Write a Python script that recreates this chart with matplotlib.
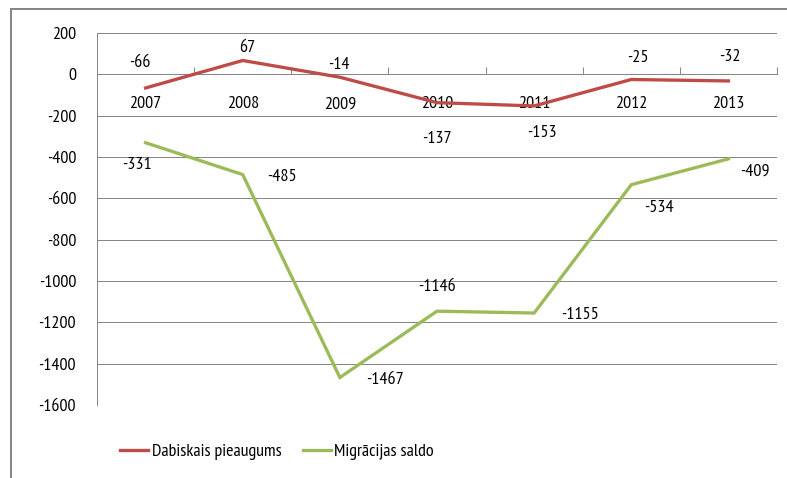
import matplotlib
matplotlib.use("Agg")
import matplotlib.pyplot as plt
from matplotlib.patches import Rectangle

years = ["2007", "2008", "2009", "2010", "2011", "2012", "2013"]
dabiskais = [-66, 67, -14, -137, -153, -25, -32]
migracijas = [-331, -485, -1467, -1146, -1155, -534, -409]
series_names = ["Dabiskais pieaugums", "Migrācijas saldo"]
yticks = [200, 0, -200, -400, -600, -800, -1000, -1200, -1400, -1600]

# label offsets (points) for data labels
red_off = [(-6, 25), (5, 12), (-1, 12), (0, -36), (8, -27), (7, 22), (1, 24)]
green_off = [(-9, -22), (39, -2), (45, -2), (0, 24), (46, -2), (28, -23), (26, -13)]

plt.rcParams['font.family'] = ['PT Sans Narrow', 'Liberation Sans', 'DejaVu Sans']
FS = 18
DPI = 72
W, H = 787, 478
fig = plt.figure(figsize=(W / DPI, H / DPI), dpi=DPI)
fig.patch.set_facecolor('white')

# outer chart frame
fig.patches.append(Rectangle((11 / W, -0.05), 1.1, 1 - 9 / H + 0.05, transform=fig.transFigure,
                             fill=False, edgecolor='#868686', linewidth=2))

ax = fig.add_axes([97 / W, (H - 405) / H, 680 / W, 372 / H])
x = [i + 0.5 for i in range(len(years))]
red = '#BE4B48'
green = '#9BBB59'
grid_c = '#868686'

ax.plot(x, dabiskais, color=red, lw=3.3, solid_joinstyle='miter', label=series_names[0], zorder=3)
ax.plot(x, migracijas, color=green, lw=3.3, solid_joinstyle='miter', label=series_names[1], zorder=3)

ax.set_xlim(0, len(years))
ax.set_ylim(-1600, 200)
ax.set_yticks(yticks)
ax.set_yticklabels([str(v) for v in yticks], fontsize=FS)
ax.tick_params(axis='y', length=0, pad=21)
for v in yticks:
    ax.axhline(v, color=grid_c, lw=1, zorder=1)

for s in ['top', 'right']:
    ax.spines[s].set_visible(False)
ax.spines['left'].set_color(grid_c)
ax.spines['left'].set_linewidth(1)
ax.spines['bottom'].set_position(('data', 0))
ax.spines['bottom'].set_color(grid_c)
ax.spines['bottom'].set_linewidth(1)

ax.set_xticks(range(1, len(years) + 1))
ax.set_xticklabels([])
ax.set_xticks(x, minor=True)
ax.set_xticklabels(years, minor=True, fontsize=FS)
ax.tick_params(axis='x', which='major', direction='in', length=7, color=grid_c, width=1)
ax.tick_params(axis='x', which='minor', length=0, pad=22)

for xi, v, off in zip(x, dabiskais, red_off):
    ax.annotate(str(v), (xi, v), xytext=off, textcoords='offset points',
                ha='center', va='center', fontsize=FS, color='black')
for xi, v, off in zip(x, migracijas, green_off):
    ax.annotate(str(v), (xi, v), xytext=off, textcoords='offset points',
                ha='center', va='center', fontsize=FS, color='black')

fig.legend(loc='center left', bbox_to_anchor=(120 / W, 1 - 452 / H), ncol=2, frameon=False,
           fontsize=FS, handlelength=1.55, handletextpad=0.2, columnspacing=1.2,
           borderpad=0, borderaxespad=0)

fig.savefig('out.png', dpi=DPI, facecolor='white')
